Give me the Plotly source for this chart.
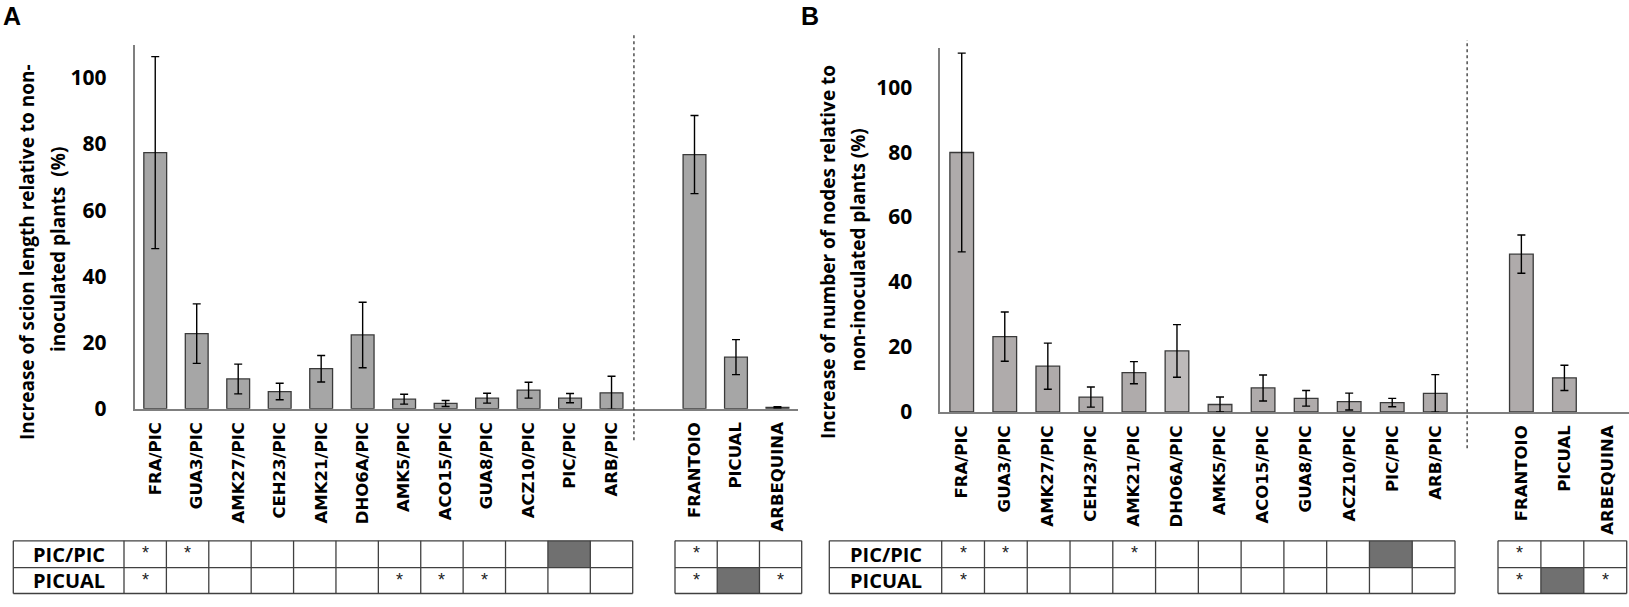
import plotly.graph_objects as go

# categories
grafted = ["FRA/PIC", "GUA3/PIC", "AMK27/PIC", "CEH23/PIC", "AMK21/PIC", "DHO6A/PIC",
           "AMK5/PIC", "ACO15/PIC", "GUA8/PIC", "ACZ10/PIC", "PIC/PIC", "ARB/PIC"]
cultivars = ["FRANTOIO", "PICUAL", "ARBEQUINA"]

# A: increase of scion length (%)
scion_grafted = [77.4, 22.7, 9.0, 5.2, 12.1, 22.3, 2.9, 1.6, 3.2, 5.6, 3.2, 4.8]
scion_grafted_err = [29.0, 9.0, 4.5, 2.5, 4.0, 9.9, 1.5, 0.9, 1.5, 2.4, 1.4, 5.0]
scion_cult = [76.8, 15.6, 0.4]
scion_cult_err = [11.8, 5.3, 0.2]

# B: increase of number of nodes (%)
nodes_grafted = [79.9, 23.2, 14.1, 4.6, 12.1, 18.8, 2.3, 7.4, 4.2, 3.2, 2.9, 5.7]
nodes_grafted_err = [30.6, 7.6, 7.1, 3.1, 3.4, 8.1, 2.3, 4.0, 2.4, 2.6, 1.3, 5.8]
nodes_cult = [48.6, 10.5, None]
nodes_cult_err = [5.9, 3.9, None]

# significance tables ("*" = significant, "ref" = reference cell)
row_names = ["PIC/PIC", "PICUAL"]
sig_A_grafted = [["*", "*", "", "", "", "", "", "", "", "", "ref", ""],
                 ["*", "", "", "", "", "", "*", "*", "*", "", "", ""]]
sig_A_cult = [["*", "", ""], ["*", "ref", "*"]]
sig_B_grafted = [["*", "*", "", "", "*", "", "", "", "", "", "ref", ""],
                 ["*", "", "", "", "", "", "", "", "", "", "", ""]]
sig_B_cult = [["*", "", ""], ["*", "ref", "*"]]

W, H = 1629, 607


def px(x):
    return x / W


def py(y):
    return 1 - y / H


cats = grafted + [" "] + cultivars
bold = dict(family="Open Sans", size=21, color="black", weight="bold")
tick_x_font = dict(family="DejaVu Sans", size=16.5, color="black", weight="bold")

fig = go.Figure()

fig.add_trace(go.Bar(
    x=cats, y=scion_grafted + [None] + scion_cult,
    marker=dict(color="#a6a6a6", line=dict(color="#3a3a3a", width=1.3)),
    error_y=dict(type="data", array=scion_grafted_err + [None] + scion_cult_err,
                 color="black", thickness=1.4, width=4),
    xaxis="x", yaxis="y"))

b_colors = ["#afabab"] * len(cats)
b_colors[5] = "#bdbaba"
fig.add_trace(go.Bar(
    x=cats, y=nodes_grafted + [None] + nodes_cult,
    marker=dict(color=b_colors, line=dict(color="#3a3a3a", width=1.3)),
    error_y=dict(type="data", array=nodes_grafted_err + [None] + nodes_cult_err,
                 color="black", thickness=1.4, width=4),
    xaxis="x2", yaxis="y2"))

axis_x = dict(type="category", categoryorder="array", categoryarray=cats,
              range=[-0.5, 15.5], showline=True, linecolor="#7f7f7f", linewidth=1.5,
              tickangle=-90, tickfont=tick_x_font, ticks="outside", ticklen=5,
              tickcolor="rgba(0,0,0,0)", showgrid=False, zeroline=False, fixedrange=True)
axis_y = dict(showline=True, linecolor="#7f7f7f", linewidth=1.5, showgrid=False,
              zeroline=False, tickvals=[0, 20, 40, 60, 80, 100], tickfont=bold,
              ticks="outside", ticklen=22, tickcolor="rgba(0,0,0,0)", fixedrange=True)

fig.update_layout(
    width=W, height=H, margin=dict(l=0, r=0, t=0, b=0),
    paper_bgcolor="white", plot_bgcolor="white", showlegend=False,
    bargap=0.45,
    xaxis=dict(axis_x, domain=[px(134.5), px(798.2)], anchor="y"),
    yaxis=dict(axis_y, domain=[py(417.7), py(45.7)], range=[0, 110], anchor="x"),
    xaxis2=dict(axis_x, domain=[px(940.2), 1.0], anchor="y2"),
    yaxis2=dict(axis_y, domain=[py(421), py(49.3)], range=[0, 112], anchor="x2"),
)

shapes = []
annotations = []

# dashed separators
dash_line = dict(color="#333333", width=1.3, dash="3px,3px")
shapes.append(dict(type="line", xref="x", yref="paper", x0=11.54, x1=11.54,
                   y0=py(450), y1=py(33), line=dash_line))
shapes.append(dict(type="line", xref="x2", yref="paper", x0=11.74, x1=11.74,
                   y0=py(458), y1=py(41), line=dash_line))

# axis titles
title_font = dict(family="Open Sans", size=19, color="black", weight="bold")
for txt, xc, yc in [("Increase of scion length relative to non-", 27.5, 258),
                    ("inoculated plants  (%)", 57.5, 255),
                    ("Increase of number of nodes relative to", 828.5, 258),
                    ("non-inoculated plants (%)", 858, 256)]:
    annotations.append(dict(text=txt, xref="paper", yref="paper", x=px(xc), y=py(yc),
                            xanchor="center", yanchor="middle", textangle=-90,
                            showarrow=False, font=title_font))

# panel letters
for txt, xl in [("A", 1), ("B", 799)]:
    annotations.append(dict(text="<b>" + txt + "</b>", xref="paper", yref="paper",
                            x=px(xl), y=py(0), xanchor="left", yanchor="top",
                            showarrow=False, font=dict(family="Liberation Sans", size=25, color="black")))

# significance tables
row_y = [552.7, 580, 606.5]
line_style = dict(color="#404040", width=1.3)


def draw_table(x_edges, rows, label_col=None):
    y0, y1 = row_y[0], row_y[-1]
    for xe in x_edges:
        shapes.append(dict(type="line", xref="paper", yref="paper", x0=px(xe), x1=px(xe),
                           y0=py(y0), y1=py(y1), line=line_style))
    for ye in row_y:
        shapes.append(dict(type="line", xref="paper", yref="paper", x0=px(x_edges[0]),
                           x1=px(x_edges[-1]), y0=py(ye), y1=py(ye), line=line_style))
    start = 1 if label_col else 0
    for r, row in enumerate(rows):
        yt, yb = row_y[r], row_y[r + 1]
        if label_col:
            annotations.append(dict(text=label_col[r], xref="paper", yref="paper",
                                    x=px((x_edges[0] + x_edges[1]) / 2), y=py((yt + yb) / 2),
                                    xanchor="center", yanchor="middle", showarrow=False,
                                    font=dict(family="Open Sans", size=20,
                                              color="black", weight="bold")))
        for c, mark in enumerate(row):
            xl, xr = x_edges[start + c], x_edges[start + c + 1]
            if mark == "ref":
                shapes.append(dict(type="rect", xref="paper", yref="paper", x0=px(xl), x1=px(xr),
                                   y0=py(yb), y1=py(yt), fillcolor="#707070",
                                   line=dict(width=0), layer="below"))
            elif mark:
                annotations.append(dict(text=mark, xref="paper", yref="paper",
                                        x=px((xl + xr) / 2), y=py((yt + yb) / 2 - 1),
                                        xanchor="center", yanchor="middle", showarrow=False,
                                        font=dict(family="Liberation Sans", size=18, color="#222222")))


def edges(left, right, n):
    step = (right - left) / n
    return [left + i * step for i in range(n + 1)]


draw_table([13.3] + edges(124, 632.7, 12), sig_A_grafted, row_names)
draw_table(edges(675, 801.7, 3), sig_A_cult)
draw_table([829.3] + edges(941.7, 1455, 12), sig_B_grafted, row_names)
draw_table(edges(1498, 1626.7, 3), sig_B_cult)

fig.update_layout(shapes=shapes, annotations=annotations)
fig.write_html("out.html", config={"displayModeBar": False},
               post_script="document.body.style.margin='0';")
